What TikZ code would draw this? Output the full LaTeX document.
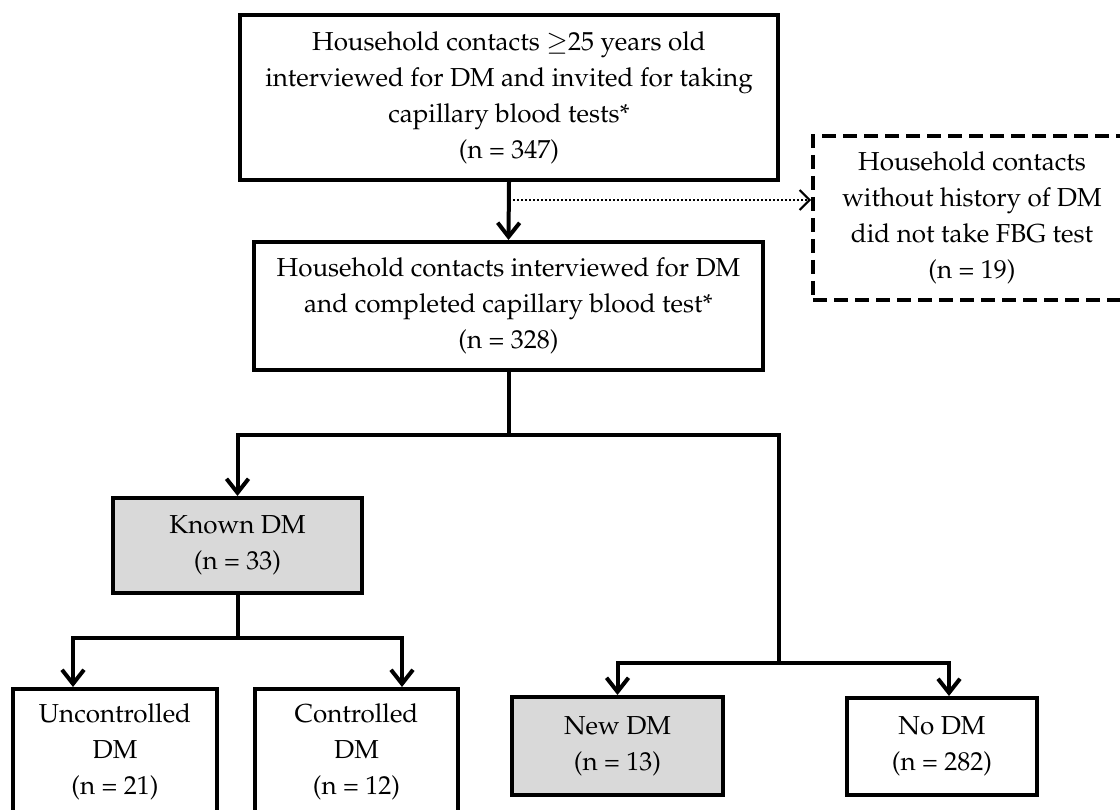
\documentclass[tikz,border=0pt]{standalone}
\usepackage[T1]{fontenc}
\usepackage{mathpazo}
\usepackage{xcolor}
\usetikzlibrary{arrows.meta}
\definecolor{boxgray}{HTML}{D9D9D9}
\tikzset{
  flow box/.style={
    draw,
    line width=4pt,
    align=center,
    inner sep=0pt,
    font=\fontsize{26}{36}\selectfont,
    minimum width={#1},
  },
  gray box/.style={
    flow box=#1,
    fill=boxgray,
  },
  skip box/.style={
    flow box=#1,
    dash pattern=on 14pt off 7pt,
  },
  flow line/.style={
    line width=4pt,
  },
  flow arrow/.style={
    line width=4pt,
    -{Straight Barb[length=14pt,width=22pt,line width=4pt]},
  },
  skip arrow/.style={
    line width=2pt,
    dash pattern=on 2pt off 2pt,
    -{Straight Barb[length=10pt,width=20pt,line width=2pt]},
  }
}

\begin{document}
\begin{tikzpicture}[x=1pt,y=-1pt]
        \useasboundingbox (0,0) rectangle (1120,810);
        \node [flow box=538pt, minimum height=165pt] (invited) at (509,97.5)
          {Household contacts $\geq$25 years old\\interviewed for DM and invited for taking\\capillary blood tests*\\(n = 347)};
        \node [flow box=509pt, minimum height=128pt] (tested) at (508.5,306)
          {Household contacts interviewed for DM\\and completed capillary blood test*\\(n = 328)};
        \node [skip box=318pt, minimum height=164pt] (untested) at (972,218)
          {Household contacts\\without history of DM\\did not take FBG test\\(n = 19)};
        \node [gray box=249pt, minimum height=95pt] (known) at (237.5,545.5)
          {Known DM\\(n = 33)};
        \node [flow box=204pt, minimum height=126pt] (uncontrolled) at (115,752)
          {Uncontrolled\\DM\\(n = 21)};
        \node [flow box=203pt, minimum height=126pt] (controlled) at (356.5,752)
          {Controlled\\DM\\(n = 12)};
        \node [gray box=211pt, minimum height=98pt] (newdm) at (617.5,746)
          {New DM\\(n = 13)};
        \node [flow box=190pt, minimum height=97pt] (nodm) at (942,746.5)
          {No DM\\(n = 282)};

        % branch points
        \coordinate (skip) at (509,200);
        \coordinate (split) at (508.5,435);
        \coordinate (splitright) at (779,435);
        \coordinate (splitnew) at (779,663);
        \coordinate (nodmcol) at (949,663);
        \coordinate (splitknown) at (237.5,638);
        \coordinate (unctrlcol) at (73,638);
        \coordinate (ctrlcol) at (402,638);

        \draw [flow arrow] (invited.south) -- (tested.north);
        \draw [skip arrow] (skip) -- (skip -| untested.west);
        \draw [flow line] (tested.south) -- (split);
        \draw [flow arrow] (split) -| (known.north);
        \draw [flow line] (split) -- (splitright) -- (splitnew);
        \draw [flow arrow] (splitnew) -| (newdm.north);
        \draw [flow arrow] (splitnew) -- (nodmcol) -- (nodmcol |- nodm.north);
        \draw [flow line] (known.south) -- (splitknown);
        \draw [flow arrow] (splitknown) -- (unctrlcol) -- (unctrlcol |- uncontrolled.north);
        \draw [flow arrow] (splitknown) -- (ctrlcol) -- (ctrlcol |- controlled.north);
    \end{tikzpicture}
\end{document}
